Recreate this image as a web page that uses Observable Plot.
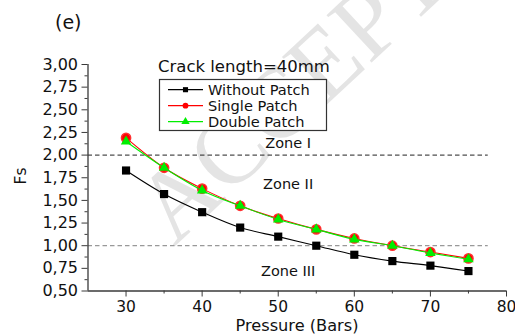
<!DOCTYPE html>
<html>
<head>
<meta charset="utf-8">
<script src="https://cdn.jsdelivr.net/npm/d3@7"></script>
<script src="https://cdn.jsdelivr.net/npm/@observablehq/plot@0.6"></script>
<style>
  html, body { margin: 0; padding: 0; background: #fff; }
  svg { display: block; }
</style>
</head>
<body>
<div id="chart"></div>
<script>
// Safety factor Fs versus pressure, crack length 40 mm
const pressure = [30, 35, 40, 45, 50, 55, 60, 65, 70, 75];
const withoutPatch = [1.83, 1.57, 1.37, 1.20, 1.10, 1.00, 0.90, 0.83, 0.78, 0.72];
const singlePatch  = [2.19, 1.86, 1.63, 1.44, 1.30, 1.18, 1.08, 1.00, 0.93, 0.86];
const doublePatch  = [2.15, 1.86, 1.61, 1.44, 1.29, 1.18, 1.07, 1.00, 0.92, 0.85];

const seriesNames = ["Without Patch", "Single Patch", "Double Patch"];
const seriesColors = ["#000000", "#ff0000", "#00ee00"];
const seriesSymbols = ["square", "circle", "triangle"];

const yTicks = [0.5, 0.75, 1.0, 1.25, 1.5, 1.75, 2.0, 2.25, 2.5, 2.75, 3.0];
const yMinor = [0.625, 0.875, 1.125, 1.375, 1.625, 1.875, 2.125, 2.375, 2.625, 2.875];
const xTicks = [30, 40, 50, 60, 70, 80];
const xMinor = [35, 45, 55, 65, 75];

const zoneLevels = [2.0, 1.0];
const zoneLabels = [
  {x: 51.3, y: 2.13, text: "Zone I"},
  {x: 51.3, y: 1.68, text: "Zone II"},
  {x: 51.3, y: 0.72, text: "Zone III"}
];

const rows = (vals) => pressure.map((p, i) => ({x: p, y: vals[i]}));
const seriesData = [rows(withoutPatch), rows(singlePatch), rows(doublePatch)];

const axisColor = "#3a3a3a";
const font = "DejaVu Sans, sans-serif";
const commaFmt = (d) => d.toFixed(2).replace(".", ",");

const marks = [
  Plot.ruleY([zoneLevels[0]], {x1: 25, x2: 77.6, stroke: "#222", strokeWidth: 1, strokeDasharray: "4.5,3"}),
  Plot.ruleY([zoneLevels[1]], {x1: 25, x2: 77.6, stroke: "#999", strokeWidth: 1.3, strokeDasharray: "4.5,3"}),
  Plot.text(zoneLabels, {x: "x", y: "y", text: "text", fill: "#111", fontSize: 14.5, fontFamily: font}),
];
seriesData.forEach((d, i) => {
  marks.push(Plot.line(d, {x: "x", y: "y", stroke: seriesColors[i], strokeWidth: 1.1, curve: "monotone-x"}));
  const r = i === 2 ? 3.9 : 4.6;
  marks.push(Plot.dot(d, {x: "x", y: "y", symbol: seriesSymbols[i], r, fill: seriesColors[i], stroke: i === 1 ? "#ff3030" : "none"}));
});
marks.push(
  Plot.ruleX([25], {stroke: axisColor, strokeWidth: 1.3}),
  Plot.ruleY([0.5], {stroke: axisColor, strokeWidth: 1.3}),
  Plot.axisY(yTicks, {tickSize: 6, tickPadding: 4, tickFormat: commaFmt, stroke: axisColor, fontSize: 16, label: null}),
  Plot.axisY(yMinor, {tickSize: 3, tickFormat: () => "", stroke: axisColor, label: null}),
  Plot.axisX(xTicks, {tickSize: 6, tickPadding: 4, tickFormat: (d) => String(d), stroke: axisColor, fontSize: 15.5, label: null}),
  Plot.axisX(xMinor, {tickSize: 3, tickFormat: () => "", stroke: axisColor, label: null})
);

const chart = Plot.plot({
  width: 515,
  height: 336,
  marginLeft: 87.5,
  marginRight: 9,
  marginTop: 64,
  marginBottom: 45.5,
  style: {fontFamily: font, color: "#111", background: "#fff", overflow: "visible"},
  x: {domain: [25, 80]},
  y: {domain: [0.5, 3.0]},
  marks
});
document.getElementById("chart").appendChild(chart);

const svg = d3.select(chart);

// faint background watermark
svg.insert("text", ":first-child")
  .attr("transform", "translate(174,247) rotate(-43)")
  .attr("text-anchor", "start")
  .attr("font-family", "Liberation Serif, serif")
  .attr("font-size", 100)
  .attr("fill", "#e4e4e4")
  .text("ACCEPTED MANUSCRIPT");

// panel tag, annotation and axis titles
const addText = (x, y, size, str, anchor = "start") =>
  svg.append("text").attr("x", x).attr("y", y).attr("text-anchor", anchor)
    .attr("font-size", size).attr("font-family", font).attr("fill", "#111").text(str);
addText(55, 29, 19, "(e)");
addText(158, 72, 16.5, "Crack length=40mm");
addText(297, 331, 16.2, "Pressure (Bars)", "middle");
svg.append("text").attr("transform", "translate(26,176) rotate(-90)").attr("text-anchor", "middle")
  .attr("font-size", 15.5).attr("font-family", font).attr("fill", "#111").text("Fs");

// legend box
const lg = svg.append("g");
lg.append("rect").attr("x", 159.5).attr("y", 79.5).attr("width", 167).attr("height", 51)
  .attr("fill", "#fff").attr("stroke", "#333").attr("stroke-width", 1.2);
const rowY = [89.7, 105.7, 121.7];
seriesNames.forEach((name, i) => {
  const y = rowY[i];
  lg.append("line").attr("x1", 168).attr("x2", 203).attr("y1", y).attr("y2", y)
    .attr("stroke", seriesColors[i]).attr("stroke-width", 1.3);
  lg.append("path")
    .attr("d", d3.symbol(i === 0 ? d3.symbolSquare : i === 1 ? d3.symbolCircle : d3.symbolTriangle, i === 2 ? 30 : 26)())
    .attr("transform", `translate(185.5,${y})`)
    .attr("fill", seriesColors[i]);
  lg.append("text").attr("x", 208).attr("y", y).attr("dy", "0.36em").attr("text-anchor", "start")
    .attr("font-size", 14.6).attr("font-family", font).attr("fill", "#111").text(name);
});
</script>
</body>
</html>
